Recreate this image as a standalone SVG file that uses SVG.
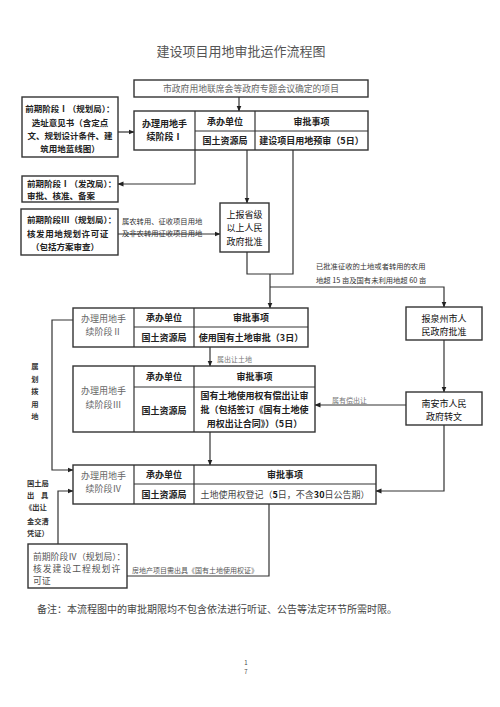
<svg xmlns="http://www.w3.org/2000/svg" width="500" height="707" viewBox="0 0 500 707">
<defs>
<marker id="ah" markerUnits="userSpaceOnUse" markerWidth="6" markerHeight="6" refX="5.5" refY="3" orient="auto">
<path d="M0,0.5 L6,3 L0,5.5 z" fill="#222"/>
</marker>
<style>
text{font-family:"Noto Sans CJK SC","Noto Sans",sans-serif;dominant-baseline:central}
.box{fill:#fff;stroke:#333;stroke-width:1.4}
.ln{stroke:#333;stroke-width:1.2;fill:none}
.c{stroke:#333;stroke-width:1.2;fill:none}
.ca{stroke:#333;stroke-width:1.2;fill:none;marker-end:url(#ah)}
.b{font-size:9px;font-weight:bold;fill:#222;text-anchor:middle}
.bl{font-size:8.5px;font-weight:bold;fill:#222}
.g{font-size:9px;fill:#666;text-anchor:middle}
.s{font-size:7.3px;fill:#333}
.sg{font-size:7px;fill:#777}
</style>
</defs>
<rect width="500" height="707" fill="#fff"/>
<text x="241" y="50" style="font-size:13px;fill:#555;text-anchor:middle">建设项目用地审批运作流程图</text>

<g id="connectors">
<path class="ca" d="M239,97 V111"/>
<path class="ca" d="M118,132 H134"/>
<path class="ca" d="M195,150 V184 H118"/>
<path class="ca" d="M247,150 V203"/>
<path class="ca" d="M118,234 H220"/>
<path class="c" d="M247,252 V274 H293 V150"/>
<path class="ca" d="M270,274 V308"/>
<path class="ca" d="M270,287 H444 V307"/>
<path class="ca" d="M210,347 V366"/>
<path class="ca" d="M444,340 V392"/>
<path class="ca" d="M406,405 H315"/>
<path class="ca" d="M210,432 V465"/>
<path class="ca" d="M444,425 V491 H376"/>
<path class="ca" d="M73,320 H52 V470 H73"/>
<path class="ca" d="M58,544 V491 H73"/>
<path class="c" d="M269,504 V576 H127"/>
<text class="s" x="122" y="221">属农转用、征收项目用地</text>
<text class="s" x="122" y="233">及非农转用征收项目用地</text>
<text class="s" x="316" y="266">已批准征收的土地或者转用的农用</text>
<text class="s" x="316" y="280">地超 15 亩及国有未利用地超 60 亩</text>
<text class="sg" x="217" y="359">属出让土地</text>
<text class="sg" x="332" y="400">属有偿出让</text>
<g class="s" style="font-weight:bold;text-anchor:middle">
<text x="35" y="366">属</text><text x="35" y="378.5">划</text><text x="35" y="391">拨</text><text x="35" y="403.5">用</text><text x="35" y="416">地</text>
</g>
<g class="s" style="font-weight:bold">
<text x="27" y="483">国土局</text>
<text x="27" y="495">出</text><text x="41" y="495">具</text>
<text x="25" y="507">《出让</text>
<text x="27" y="521">金交清</text>
<text x="27" y="533">凭证）</text>
</g>
<text class="sg" x="132" y="570" style="fill:#555">房地产项目需出具《国有土地使用权证》</text>
</g>

<g id="top-project">
<rect class="box" x="134" y="80" width="234" height="17"/>
<text class="g" x="251" y="88.5" style="font-size:8.8px">市政府用地联席会等政府专题会议确定的项目</text>
</g>

<g id="pre-1-plan">
<rect class="box" x="22" y="97" width="96" height="60"/>
<text class="b" x="70" y="108" style="font-size:8.5px">前期阶段Ⅰ（规划局）：</text>
<text class="b" x="70" y="122" style="font-size:8.5px">选址意见书（含定点</text>
<text class="b" x="70" y="135" style="font-size:8.5px">文、规划设计条件、建</text>
<text class="b" x="70" y="148" style="font-size:8.5px">筑用地蓝线图）</text>
</g>

<g id="pre-1-dev">
<rect class="box" x="22" y="176" width="96" height="26"/>
<text class="bl" x="27" y="182.5">前期阶段Ⅰ（发改局）：</text>
<text class="bl" x="27" y="195">审批、核准、备案</text>
</g>

<g id="pre-3-plan">
<rect class="box" x="21" y="209" width="97" height="46"/>
<text class="bl" x="27" y="219">前期阶段Ⅲ（规划局）：</text>
<text class="bl" x="27" y="233" style="letter-spacing:0.6px">核发用地规划许可证</text>
<text class="bl" x="31" y="246">（包括方案审查）</text>
</g>

<g id="stage-1">
<rect class="box" x="134" y="111" width="234" height="39"/>
<path class="ln" d="M195,111 V150 M255,111 V150 M195,131 H368"/>
<text class="b" x="164.5" y="123">办理用地手</text>
<text class="b" x="164.5" y="136">续阶段Ⅰ</text>
<text class="b" x="225" y="121">承办单位</text>
<text class="b" x="311.5" y="121">审批事项</text>
<text class="b" x="225" y="140.5">国土资源局</text>
<text class="b" x="311.5" y="140.5">建设项目用地预审（5日）</text>
</g>

<g id="provincial">
<rect class="box" x="220" y="203" width="49" height="49"/>
<text class="b" x="244.5" y="214" style="font-weight:normal;fill:#111">上报省级</text>
<text class="b" x="244.5" y="227.5" style="font-weight:normal;fill:#111">以上人民</text>
<text class="b" x="244.5" y="241" style="font-weight:normal;fill:#111">政府批准</text>
</g>

<g id="stage-2">
<rect class="box" x="73" y="308" width="235" height="39"/>
<path class="ln" d="M134,308 V347 M194,308 V347 M134,327 H308"/>
<text class="g" x="103.5" y="318">办理用地手</text>
<text class="g" x="103.5" y="331">续阶段Ⅱ</text>
<text class="b" x="164" y="317.5">承办单位</text>
<text class="b" x="251" y="317.5">审批事项</text>
<text class="b" x="164" y="337">国土资源局</text>
<text class="b" x="251" y="337">使用国有土地审批（3日）</text>
</g>

<g id="quanzhou">
<rect class="box" x="406" y="307" width="76" height="33"/>
<text class="b" x="444" y="318" style="font-weight:normal;fill:#111">报泉州市人</text>
<text class="b" x="444" y="331" style="font-weight:normal;fill:#111">民政府批准</text>
</g>

<g id="stage-3">
<rect class="box" x="73" y="366" width="242" height="66"/>
<path class="ln" d="M134,366 V432 M194,366 V432 M134,387 H315"/>
<text class="g" x="103.5" y="390">办理用地手</text>
<text class="g" x="103.5" y="404">续阶段Ⅲ</text>
<text class="b" x="164" y="376.5">承办单位</text>
<text class="b" x="254.5" y="376.5">审批事项</text>
<text class="b" x="164" y="410">国土资源局</text>
<text class="b" x="254.5" y="395">国有土地使用权有偿出让审</text>
<text class="b" x="254.5" y="409">批（包括签订《国有土地使</text>
<text class="b" x="254.5" y="423">用权出让合同》）（5日）</text>
</g>

<g id="nanan">
<rect class="box" x="406" y="392" width="76" height="33"/>
<text class="b" x="444" y="403.5" style="font-weight:normal;fill:#111">南安市人民</text>
<text class="b" x="444" y="416" style="font-weight:normal;fill:#111">政府转文</text>
</g>

<g id="stage-4">
<rect class="box" x="73" y="465" width="303" height="39"/>
<path class="ln" d="M134,465 V504 M194,465 V504 M134,484 H376"/>
<text class="g" x="103.5" y="475">办理用地手</text>
<text class="g" x="103.5" y="488">续阶段Ⅳ</text>
<text class="b" x="164" y="474.5">承办单位</text>
<text class="b" x="285" y="474.5">审批事项</text>
<text class="b" x="164" y="494">国土资源局</text>
<text class="g" x="285" y="494" style="fill:#444">土地使用权登记（<tspan font-weight="bold" fill="#111">5</tspan>日，不含<tspan font-weight="bold" fill="#111">30</tspan>日公告期）</text>
</g>

<g id="pre-4-plan">
<rect class="box" x="28" y="544" width="99" height="44"/>
<text x="33" y="556" style="font-size:8.8px;fill:#555">前期阶段Ⅳ（规划局）：</text>
<text x="33" y="568" style="font-size:8.8px;fill:#555;letter-spacing:1px">核发建设工程规划许</text>
<text x="33" y="580" style="font-size:8.8px;fill:#555">可证</text>
</g>

<text x="37" y="608" style="font-size:10px;fill:#444">备注：本流程图中的审批期限均不包含依法进行听证、公告等法定环节所需时限。</text>
<text x="246" y="662" style="font-size:6px;fill:#444;text-anchor:middle">1</text>
<text x="246" y="671" style="font-size:6px;fill:#444;text-anchor:middle">7</text>
</svg>
